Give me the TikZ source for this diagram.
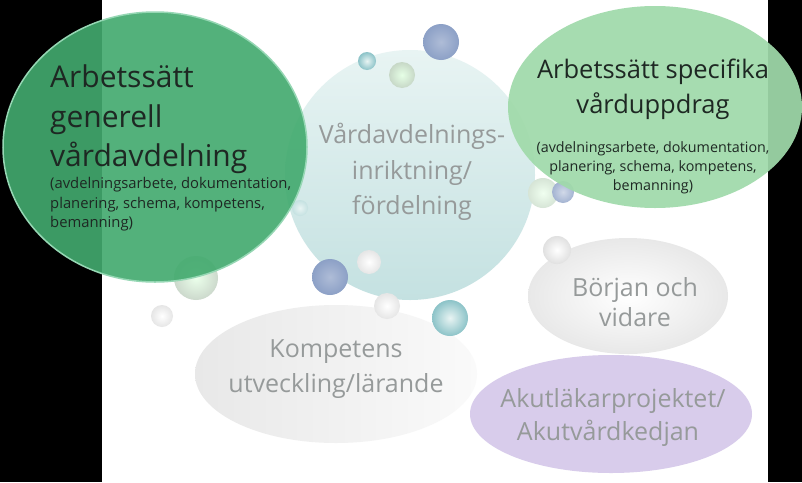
\documentclass[tikz,border=0pt]{standalone}
\usepackage{fontspec}
\setmainfont{Open Sans}
\usetikzlibrary{shapes.geometric}
\definecolor{gdark}{RGB}{66,170,110}
\definecolor{grim}{RGB}{150,215,180}
\definecolor{glight}{RGB}{160,218,170}
\definecolor{tealA}{RGB}{232,244,243}
\definecolor{tealB}{RGB}{196,225,225}
\definecolor{tealC}{RGB}{140,195,200}
\definecolor{purp}{RGB}{216,204,235}
\definecolor{greytxt}{RGB}{150,154,154}
\definecolor{bluegrey}{RGB}{140,160,198}
\definecolor{txtdark}{RGB}{30,40,35}
\tikzset{
  ln/.style={inner sep=0pt, anchor=base},
  lnw/.style={inner sep=0pt, anchor=base west},
  big/.style={font=\fontsize{30}{36}\selectfont, text=txtdark},
  small/.style={font=\fontsize{14.8}{19}\selectfont, text=txtdark},
  smallr/.style={font=\fontsize{14.3}{19}\selectfont, text=txtdark},
  grey/.style={font=\fontsize{25}{30}\selectfont, text=greytxt},
}
\begin{document}
\begin{tikzpicture}[x=1pt,y=-1pt]
\useasboundingbox (0,0) rectangle (802,482);
\fill[white] (0,0) rectangle (802,482);
\fill[black] (0,0) rectangle (102,482);
\fill[black] (768,0) rectangle (802,482);
% background ellipses
\shade[left color=black!9, right color=black!2] (336,374) ellipse [x radius=141, y radius=69];
\shade[inner color=white, outer color=black!9] (628,296) ellipse [x radius=100, y radius=58];
\fill[purp] (611,414) ellipse [x radius=141, y radius=59];
% big teal circle
\shade[top color=tealA, bottom color=tealB] (410,175) circle [radius=125];
% bubbles
\shade[inner color=white, outer color=black!12] (557,250) circle [radius=14];
\shade[inner color=tealA, outer color=tealC] (450,318) circle [radius=18];
\shade[inner color=white, outer color=black!10] (387,306) circle [radius=13];
\shade[inner color=white, outer color=black!10] (369,262) circle [radius=12];
\shade[inner color=bluegrey!70, outer color=bluegrey] (330,277) circle [radius=18];
\shade[inner color=white, outer color=black!10] (162,316) circle [radius=11];
\shade[inner color=green!8!white, outer color=green!25!black!20] (196,278) circle [radius=22];
\shade[inner color=tealA, outer color=tealB] (300,208) circle [radius=8];
\shade[inner color=green!6!white, outer color=green!35!black!16] (543,193) circle [radius=15];
\shade[inner color=bluegrey!40, outer color=bluegrey!80] (563,192) circle [radius=11];
\shade[inner color=bluegrey!70, outer color=bluegrey] (441,42) circle [radius=18];
\shade[inner color=green!10!white, outer color=green!30!black!22] (402,75) circle [radius=13];
\shade[inner color=tealA, outer color=tealC] (367,61) circle [radius=9];
% left green ellipse
\fill[gdark, fill opacity=0.91] (155,147) ellipse [x radius=152, y radius=135];
\draw[grim, line width=1.5pt] (155,147) ellipse [x radius=152, y radius=135];
% right green ellipse
\fill[glight, fill opacity=0.93] (655,107) ellipse [x radius=147, y radius=101];
% texts
\node[lnw, big] (l1) at (50,87) {Arbetssätt};
\node[lnw, big] (l2) at (50,127) {generell};
\node[lnw, big] (l3) at (50,166) {vårdavdelning};
\node[lnw, small] (l4) at (50,188) {(avdelningsarbete, dokumentation,};
\node[lnw, small] (l5) at (50,208) {planering, schema, kompetens,};
\node[lnw, small] (l6) at (50,227) {bemanning)};
\node[ln, font=\fontsize{25.5}{30}\selectfont, text=txtdark] (r1) at (653,78) {Arbetssätt specifika};
\node[ln, font=\fontsize{25.5}{30}\selectfont, text=txtdark] (r2) at (653,113) {vårduppdrag};
\node[ln, smallr] (r3) at (653,152) {(avdelningsarbete, dokumentation,};
\node[ln, smallr] (r4) at (653,171) {planering, schema, kompetens,};
\node[ln, smallr] (r5) at (653,190) {bemanning)};
\node[ln, grey] (v1) at (412,143) {Vårdavdelnings-};
\node[ln, grey] (v2) at (412,179) {inriktning/};
\node[ln, grey] (v3) at (412,214) {fördelning};
\node[ln, grey] (k1) at (336,357) {Kompetens};
\node[ln, grey] (k2) at (336,392) {utveckling/lärande};
\node[ln, grey] (b1) at (635,296) {Början och};
\node[ln, grey] (b2) at (635,326) {vidare};
\node[ln, grey] (a1) at (613,407) {Akutläkarprojektet/};
\node[ln, grey] (a2) at (608,440) {Akutvårdkedjan};
\end{tikzpicture}
\end{document}
